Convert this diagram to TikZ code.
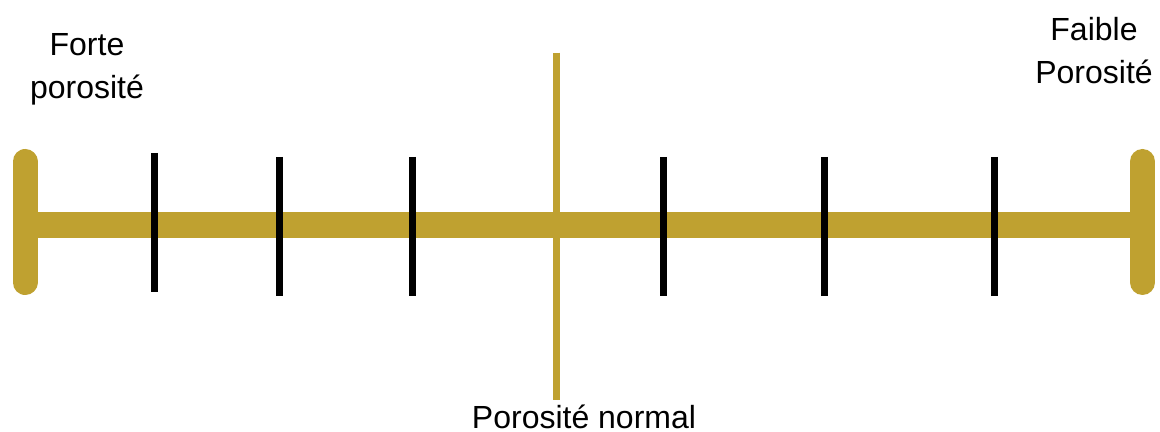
\documentclass[tikz,border=0pt]{standalone}
\usepackage{fontspec}
\setmainfont{Liberation Sans}
\definecolor{gold}{RGB}{191,161,48}

\begin{document}
\begin{tikzpicture}[
    x=0.5pt, y=-0.5pt,
    every node/.style={inner sep=0pt, align=center, font=\fontsize{16}{21.5}\selectfont},
    bar/.style={draw=gold, line width=13pt},
    endcap/.style={draw=gold, line width=12.5pt, line cap=round},
    midline/.style={draw=gold, line width=3.5pt},
    tickmark/.style={draw=black, line width=3.5pt}
]
\useasboundingbox (0,0) rectangle (1160,432);

\coordinate (barL) at (25,225.5);
\coordinate (barR) at (1142.5,225.5);
\coordinate (capLtop) at (25,161.5);
\coordinate (capLbot) at (25,282.5);
\coordinate (capRtop) at (1142.5,161.5);
\coordinate (capRbot) at (1142.5,282.5);
\coordinate (midtop) at (556.3,52.7);
\coordinate (midbot) at (556.3,400);

\node[anchor=north] (forte) at (87,33) {Forte\\porosité};
\node[anchor=north] (faible) at (1094,17) {Faible\\Porosité};
\node[anchor=base] (normal) at (584,428) {Porosité normal};

\draw[bar] (barL) -- (barR);
\draw[endcap] (capLtop) -- (capLbot);
\draw[endcap] (capRtop) -- (capRbot);
\draw[midline] (midtop) -- (midbot);

\foreach \x/\y [count=\i] in {154.5/153, 279.5/157, 412.5/157, 663.5/157, 824/157, 994.5/157} {
    \coordinate (tick\i top) at (\x,\y);
    \coordinate (tick\i bot) at (\x,\y+139);
    \draw[tickmark] (tick\i top) -- (tick\i bot);
}
\end{tikzpicture}
\end{document}
